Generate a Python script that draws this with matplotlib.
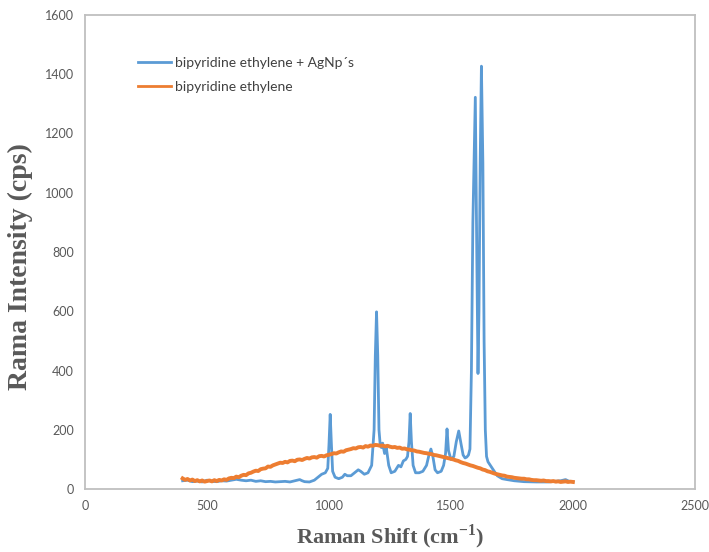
import numpy as np
import matplotlib
matplotlib.use("Agg")
from matplotlib import pyplot as plt

# blue series: bipyridine ethylene + AgNp's
agnp_x = [400, 420, 440, 460, 480, 500, 520, 540, 560, 580, 600, 620, 640, 660, 680,
          700, 720, 740, 760, 780, 800, 820, 840, 860, 880, 890, 900, 920, 940, 955,
          970, 985, 995, 1000, 1005, 1010, 1015, 1025, 1040, 1055, 1065, 1075, 1090,
          1105, 1120, 1130, 1145, 1160, 1175, 1185, 1190, 1195, 1200, 1205, 1210, 1215,
          1220, 1228, 1235, 1245, 1255, 1270, 1285, 1295, 1305, 1315, 1322, 1328, 1333,
          1338, 1345, 1355, 1370, 1385, 1400, 1410, 1418, 1426, 1435, 1445, 1460, 1470,
          1478, 1484, 1490, 1500, 1512, 1522, 1532, 1542, 1550, 1558, 1565, 1572, 1578,
          1584, 1590, 1600, 1606, 1611, 1615, 1620, 1625, 1631, 1636, 1641, 1646, 1652,
          1660, 1668, 1676, 1690, 1710, 1730, 1760, 1800, 1850, 1900, 1950, 1970, 1985, 2000]
agnp_y = [28, 30, 25, 27, 24, 30, 26, 25, 28, 27, 30, 33, 30, 28, 30,
          26, 28, 25, 26, 24, 25, 26, 24, 28, 32, 28, 25, 24, 30, 40,
          50, 55, 70, 150, 252, 150, 60, 40, 35, 40, 50, 45, 45,
          55, 65, 60, 50, 55, 80, 200, 450, 598, 450, 200, 150, 140,
          155, 120, 140, 80, 55, 60, 80, 75, 95, 100, 110, 160, 255,
          160, 80, 55, 55, 60, 80, 115, 135, 110, 65, 55, 60, 80,
          120, 203, 130, 100, 110, 160, 196, 150, 115, 105, 108, 115, 135,
          400, 900, 1322, 800, 390, 600, 1100, 1427, 1100, 500, 200, 110, 92,
          82, 72, 62, 45, 35, 32, 28, 25, 24, 24, 28, 32, 26, 25]

# orange series: bipyridine ethylene, sampled every 10 cm-1 from 400 to 2000
bpe_x = np.arange(400, 2001, 10)
bpe_y = [36, 31, 34, 29, 32, 27, 30, 26, 29, 25, 27,
         29, 26, 30, 27, 31, 29, 33, 31, 36, 38,
         37, 42, 40, 45, 48, 47, 53, 55, 59, 62,
         61, 67, 69, 70, 76, 75, 80, 83, 86, 89,
         88, 92, 90, 95, 96, 94, 99, 100, 98, 102,
         105, 103, 107, 108, 106, 111, 112, 110, 114, 116,
         118, 121, 120, 124, 127, 126, 131, 133, 135, 138,
         137, 141, 142, 140, 145, 143, 147, 146, 149, 148,
         146, 147, 144, 146, 143, 141, 142, 139, 140, 136,
         137, 134, 133, 131, 130, 127, 126, 124, 122, 121,
         119, 118, 115, 114, 112, 110, 108, 106, 104, 102,
         100, 97, 95, 91, 88, 86, 83, 80, 78, 75,
         72, 70, 66, 64, 60, 58, 55, 52, 50, 48,
         46, 45, 42, 41, 40, 38, 37, 36, 35, 35,
         33, 33, 31, 30, 30, 29, 28, 29, 27, 27,
         26, 27, 25, 26, 24, 25, 26, 24, 25, 24]

labels = ["bipyridine ethylene + AgNp´s", "bipyridine ethylene"]

plt.rcParams['mathtext.fontset'] = 'custom'
plt.rcParams['mathtext.rm'] = 'Liberation Serif:bold'
plt.rcParams['mathtext.bf'] = 'Liberation Serif:bold'

fig = plt.figure(figsize=(7.09, 5.52), dpi=100)
ax = fig.add_axes([0.12, 0.114, 0.86, 0.859])

ax.plot(agnp_x, agnp_y, color='#5B9BD5', lw=2, label=labels[0])
ax.plot(bpe_x, bpe_y, color='#ED7D31', lw=2.8, label=labels[1])

ax.set_xlim(0, 2500)
ax.set_ylim(0, 1600)
ax.set_xticks(range(0, 2501, 500))
ax.set_yticks(range(0, 1601, 200))
ax.tick_params(length=0, labelsize=9, labelcolor='#595959', pad=8)
for lab in ax.get_xticklabels() + ax.get_yticklabels():
    lab.set_family('Lato')
for s in ax.spines.values():
    s.set_color('#BFBFBF')
    s.set_linewidth(1.3)

ax.set_xlabel(r'Raman Shift (cm$^{-1}$)', family='Liberation Serif', weight='bold',
              fontsize=16, color='#595959', labelpad=7)
ax.set_ylabel('Rama Intensity (cps)', family='Liberation Serif', weight='bold',
              fontsize=20, color='#595959')
ax.yaxis.set_label_coords(-0.085, 0.47)

leg = ax.legend(loc='upper left', bbox_to_anchor=(0.066, 0.937), frameon=False,
                prop={'family': 'Lato', 'size': 10}, handlelength=2.4,
                handletextpad=0.25, labelspacing=0.85)
for t in leg.get_texts():
    t.set_color('#404040')
for h in leg.get_lines():
    h.set_linewidth(2)

fig.savefig('out.png', dpi=100)
